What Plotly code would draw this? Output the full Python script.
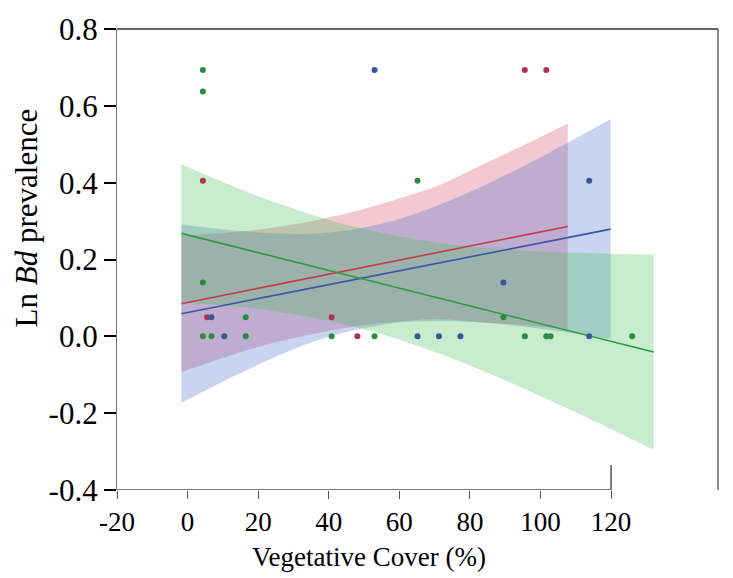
import plotly.graph_objects as go

# Observations: vegetative cover (%) vs ln Bd prevalence, three groups
green_x = [0, 0, 0, 0, 2, 10, 10, 30, 40, 50, 70, 75, 80, 81, 100]
green_y = [0.693, 0.637, 0.14, 0, 0, 0.05, 0, 0, 0, 0.405, 0.05, 0, 0, 0, 0]
red_x = [0, 1, 30, 36, 75, 80]
red_y = [0.405, 0.05, 0.05, 0, 0.693, 0.693]
blue_x = [2, 5, 40, 50, 55, 60, 70, 90, 90]
blue_y = [0.05, 0, 0.693, 0, 0, 0, 0.14, 0.405, 0]

# Fitted regression lines (end points)
green_fit_x = [-5, 105]
green_fit_y = [0.268, -0.041]
red_fit_x = [-5, 85]
red_fit_y = [0.085, 0.286]
blue_fit_x = [-5, 95]
blue_fit_y = [0.059, 0.279]

# 95% confidence bands
green_band_x = [-5, 5, 15, 25, 35, 45, 55, 65, 75, 85, 95, 105]
green_band_hi = [0.448, 0.400, 0.356, 0.318, 0.286, 0.262, 0.243, 0.231, 0.223, 0.218, 0.215, 0.213]
green_band_lo = [0.088, 0.080, 0.068, 0.050, 0.026, -0.006, -0.045, -0.089, -0.137, -0.188, -0.241, -0.295]
red_band_x = [-5, 5, 15, 25, 35, 45, 55, 65, 75, 85]
red_band_hi = [0.263, 0.269, 0.281, 0.299, 0.324, 0.356, 0.393, 0.446, 0.499, 0.554]
red_band_lo = [-0.093, -0.055, -0.021, 0.005, 0.025, 0.038, 0.045, 0.036, 0.029, 0.018]
blue_band_x = [-5, 5, 15, 25, 35, 45, 55, 65, 75, 85, 95]
blue_band_hi = [0.291, 0.278, 0.269, 0.267, 0.278, 0.303, 0.342, 0.390, 0.445, 0.504, 0.565]
blue_band_lo = [-0.173, -0.116, -0.063, -0.017, 0.016, 0.035, 0.040, 0.036, 0.025, 0.010, -0.007]

x_ticks = [-20, 0, 20, 40, 60, 80, 100, 120]
y_ticks = [-0.4, -0.2, 0.0, 0.2, 0.4, 0.6, 0.8]
y_tick_text = ["-0.4", "-0.2", "0.0", "0.2", "0.4", "0.6", "0.8"]

FONT = "Liberation Serif, Times New Roman, serif"

groups = [
    # band x, hi, lo, fill, fit x, fit y, line colour, points x, y, marker colour
    (red_band_x, red_band_hi, red_band_lo, "rgba(215,72,105,0.3)",
     red_fit_x, red_fit_y, "#c63a52", red_x, red_y, "#b0344c"),
    (blue_band_x, blue_band_hi, blue_band_lo, "rgba(72,112,205,0.3)",
     blue_fit_x, blue_fit_y, "#3a56a5", blue_x, blue_y, "#34579e"),
    (green_band_x, green_band_hi, green_band_lo, "rgba(72,192,85,0.3)",
     green_fit_x, green_fit_y, "#2f9a47", green_x, green_y, "#2e8b3e"),
]

fig = go.Figure()

for bx, hi, lo, fill, *_ in groups:
    fig.add_trace(go.Scatter(
        x=bx, y=lo, mode="lines", line=dict(width=0, shape="spline", smoothing=0.8),
        hoverinfo="skip", showlegend=False,
    ))
    fig.add_trace(go.Scatter(
        x=bx, y=hi, mode="lines", line=dict(width=0, shape="spline", smoothing=0.8),
        fill="tonexty", fillcolor=fill, hoverinfo="skip", showlegend=False,
    ))

for *_, fx, fy, lc, px, py, mc in groups:
    fig.add_trace(go.Scatter(
        x=fx, y=fy, mode="lines", line=dict(color=lc, width=1.6),
        showlegend=False,
    ))

for *_, fx, fy, lc, px, py, mc in groups:
    fig.add_trace(go.Scatter(
        x=px, y=py, mode="markers", marker=dict(color=mc, size=6),
        showlegend=False,
    ))

# empty trace so the labelled (compressed) axis is drawn
fig.add_trace(go.Scatter(x=[-20, 120], y=[None, None], xaxis="x2",
                         mode="markers", showlegend=False, hoverinfo="skip"))

fig.update_layout(
    width=733, height=578,
    margin=dict(l=117, r=15, t=25, b=88),
    paper_bgcolor="white", plot_bgcolor="white",
    font=dict(family=FONT, color="black"),
    xaxis=dict(range=[-20, 120], showgrid=False, zeroline=False,
               showticklabels=False, ticks="", showline=False),
    xaxis2=dict(range=[-20, 150.3], anchor="y", overlaying="x", side="bottom",
                tickvals=x_ticks, ticktext=[str(v) for v in x_ticks],
                ticks="outside", ticklen=8, tickwidth=1, tickcolor="#555",
                showline=False, showgrid=False, zeroline=False,
                tickfont=dict(family=FONT, size=27, color="black")),
    yaxis=dict(range=[-0.4, 0.8], tickvals=y_ticks, ticktext=y_tick_text,
               ticks="outside", ticklen=12, tickwidth=2, tickcolor="black",
               showline=True, linecolor="#777", linewidth=1.2,
               showgrid=False, zeroline=False,
               tickfont=dict(family=FONT, size=31, color="black")),
    shapes=[
        # frame: top, right, bottom axis line, short right edge of the axis strip
        dict(type="line", xref="paper", yref="paper", x0=0, x1=1, y0=1, y1=1,
             line=dict(color="#333", width=1.5)),
        dict(type="line", xref="paper", yref="paper", x0=1, x1=1, y0=0, y1=1,
             line=dict(color="#666", width=1.5)),
        dict(type="line", xref="x2", yref="y", x0=-20, x1=120, y0=-0.4, y1=-0.4,
             line=dict(color="#555", width=1.5)),
        dict(type="line", xref="x2", yref="y", x0=120, x1=120, y0=-0.335, y1=-0.4,
             line=dict(color="#555", width=1.5)),
    ],
    annotations=[
        dict(text="Vegetative Cover (%)", xref="paper", yref="paper",
             x=0.42, y=-0.146, xanchor="center", yanchor="middle",
             showarrow=False, font=dict(family=FONT, size=27, color="black")),
        dict(text="Ln <i>Bd</i> prevalence", xref="paper", yref="paper",
             x=-0.15, y=0.591, xanchor="center", yanchor="middle", textangle=-90,
             showarrow=False, font=dict(family=FONT, size=31, color="black")),
    ],
)

fig.write_html("out.html")
